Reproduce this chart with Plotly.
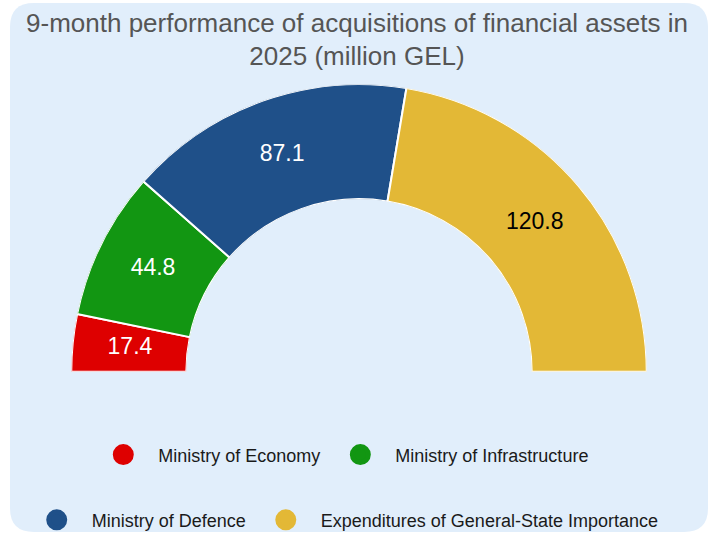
import plotly.graph_objects as go

# ---- data ----
categories = [
    "Ministry of Economy",
    "Ministry of Infrastructure",
    "Ministry of Defence",
    "Expenditures of General-State Importance",
]
values = [17.4, 44.8, 87.1, 120.8]
colors = ["#DE0000", "#129612", "#1F5089", "#E3B836"]
label_colors = ["#FFFFFF", "#FFFFFF", "#FFFFFF", "#000000"]
legend_rows = ["legend", "legend", "legend2", "legend2"]
title_text = "9-month performance of acquisitions of financial assets in<br>2025 (million GEL)"

# ---- angular layout of the half donut (share of 180 degrees) ----
total = sum(values)
spans = [v / total * 180.0 for v in values]
centers = []
acc = 0.0
for s in spans:
    centers.append(acc + s / 2.0)
    acc += s

W, H = 714, 539
FONT = "Liberation Sans, Arial, Helvetica, sans-serif"

fig = go.Figure()

fig.add_trace(go.Barpolar(
    r=[1] * len(values),
    theta=centers,
    width=spans,
    marker=dict(color=colors, line=dict(color="#FFFFFF", width=2)),
    customdata=categories,
    text=[str(v) for v in values],
    hovertemplate="%{customdata}: %{text}<extra></extra>",
    showlegend=False,
))

fig.add_trace(go.Scatterpolar(
    r=[0.5] * len(values),
    theta=centers,
    mode="text",
    text=[f"{v}" for v in values],
    textfont=dict(size=23, color=label_colors, family=FONT),
    hoverinfo="skip",
    showlegend=False,
))

for name, col, lg in zip(categories, colors, legend_rows):
    fig.add_trace(go.Scatterpolar(
        r=[None], theta=[None],
        mode="markers",
        name=name,
        marker=dict(symbol="circle", size=16, color=col, line=dict(color=col, width=5)),
        legend=lg,
    ))

def px_x(v):
    return v / W

def px_y(v):
    return 1 - v / H

# rounded background panel
x0, x1, yt, yb, rad = 10, 708, 3, 538, 24
path = (
    f"M {px_x(x0+rad)},{px_y(yt)} L {px_x(x1-rad)},{px_y(yt)} "
    f"Q {px_x(x1)},{px_y(yt)} {px_x(x1)},{px_y(yt+rad)} "
    f"L {px_x(x1)},{px_y(yb-rad)} Q {px_x(x1)},{px_y(yb)} {px_x(x1-rad)},{px_y(yb)} "
    f"L {px_x(x0+rad)},{px_y(yb)} Q {px_x(x0)},{px_y(yb)} {px_x(x0)},{px_y(yb-rad)} "
    f"L {px_x(x0)},{px_y(yt+rad)} Q {px_x(x0)},{px_y(yt)} {px_x(x0+rad)},{px_y(yt)} Z"
)

legend_common = dict(
    orientation="h",
    xanchor="center",
    yanchor="middle",
    font=dict(size=18, color="#1A1A1A", family=FONT),
    bgcolor="rgba(0,0,0,0)",
    itemwidth=60,
    itemclick=False,
    itemdoubleclick=False,
)

fig.update_layout(
    width=W, height=H,
    margin=dict(l=0, r=0, t=0, b=0),
    paper_bgcolor="#FFFFFF",
    font=dict(family=FONT),
    title=dict(
        text=title_text,
        x=0.5, xanchor="center",
        y=px_y(31.5), yanchor="middle",
        font=dict(size=26, color="#555555", family=FONT),
    ),
    shapes=[dict(type="path", path=path, xref="paper", yref="paper",
                 fillcolor="#E1EEFB", line=dict(width=0), layer="below")],
    polar=dict(
        domain=dict(x=[px_x(68), px_x(650)], y=[px_y(376), px_y(85)]),
        sector=[0, 180],
        hole=0.6,
        bgcolor="rgba(0,0,0,0)",
        radialaxis=dict(visible=False, range=[0, 1]),
        angularaxis=dict(visible=False, direction="clockwise", rotation=180),
    ),
    legend=dict(x=0.478, y=px_y(460), **legend_common),
    legend2=dict(x=0.48, y=px_y(526), **legend_common),
)

fig.write_html(
    "out.html",
    config={"displayModeBar": False},
    post_script="document.body.style.margin='0';",
)
